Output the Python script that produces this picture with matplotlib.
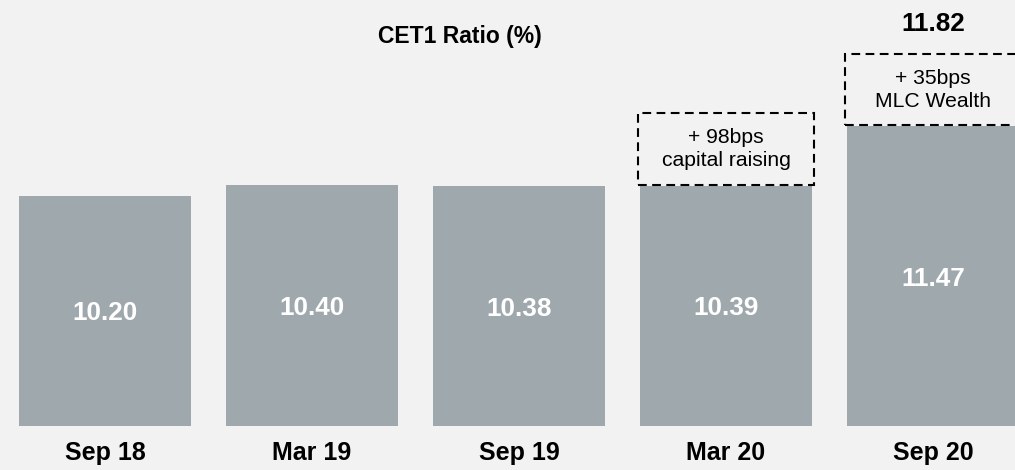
import matplotlib
matplotlib.use("Agg")
import matplotlib.pyplot as plt
from matplotlib.patches import Rectangle

plt.rcParams['font.family'] = ['Liberation Sans', 'DejaVu Sans']

# Data
categories = ["Sep 18", "Mar 19", "Sep 19", "Mar 20", "Sep 20"]
cet1 = [10.20, 10.40, 10.38, 10.39, 11.47]
increment_bps = [None, None, None, 98, 35]
increment_note = [None, None, None, "capital raising", "MLC Wealth"]
title = "CET1 Ratio (%)"

# Style
BG = "#F2F2F2"
BAR = "#9FA9AD"
BASE = 6.0
BAR_W = 0.83
BOX_H = 1.30

fig = plt.figure(figsize=(10.15, 4.70), dpi=100, facecolor=BG)
ax = fig.add_axes([0, 0, 1, 1])
ax.set_facecolor(BG)

x = list(range(len(categories)))
heights = [v - BASE for v in cet1]
ax.bar(x, heights, bottom=BASE, width=BAR_W, color=BAR, edgecolor="none")

for xi, v, cat, inc, note in zip(x, cet1, categories, increment_bps, increment_note):
    ax.text(xi, (v + BASE) / 2, f"{v:.2f}", ha="center", va="center_baseline",
            color="white", fontsize=18.8, fontweight="bold")
    ax.text(xi, 5.38, cat, ha="center", va="baseline", color="black",
            fontsize=18, fontweight="bold")
    if inc is not None:
        bottom = v + 0.02
        rect = Rectangle((xi - BAR_W / 2 - 0.01, bottom), BAR_W + 0.02, BOX_H,
                         fill=False, edgecolor="black", linewidth=1.5,
                         linestyle=(0, (4.2, 2.6)))
        ax.add_patch(rect)
        ax.text(xi, bottom + BOX_H / 2, f"+ {inc}bps\n{note}", ha="center",
                va="center", fontsize=15.2, color="black", linespacing=1.28)

# total label for last bar
last = len(cet1) - 1
total = cet1[last] + increment_bps[last] / 100
ax.text(x[last], 13.38, f"{total:.2f}", ha="center", va="center_baseline",
        fontsize=18.8, fontweight="bold", color="black")

fig.text(459.5 / 1015, 1 - 37 / 470, title, ha="center", va="center",
         fontsize=16.5, fontweight="bold", color="black")

ax.set_xlim(-0.507, 4.396)
ax.set_ylim(5.196, 13.78)
ax.axis("off")

fig.savefig("out.png", dpi=100, facecolor=BG)
